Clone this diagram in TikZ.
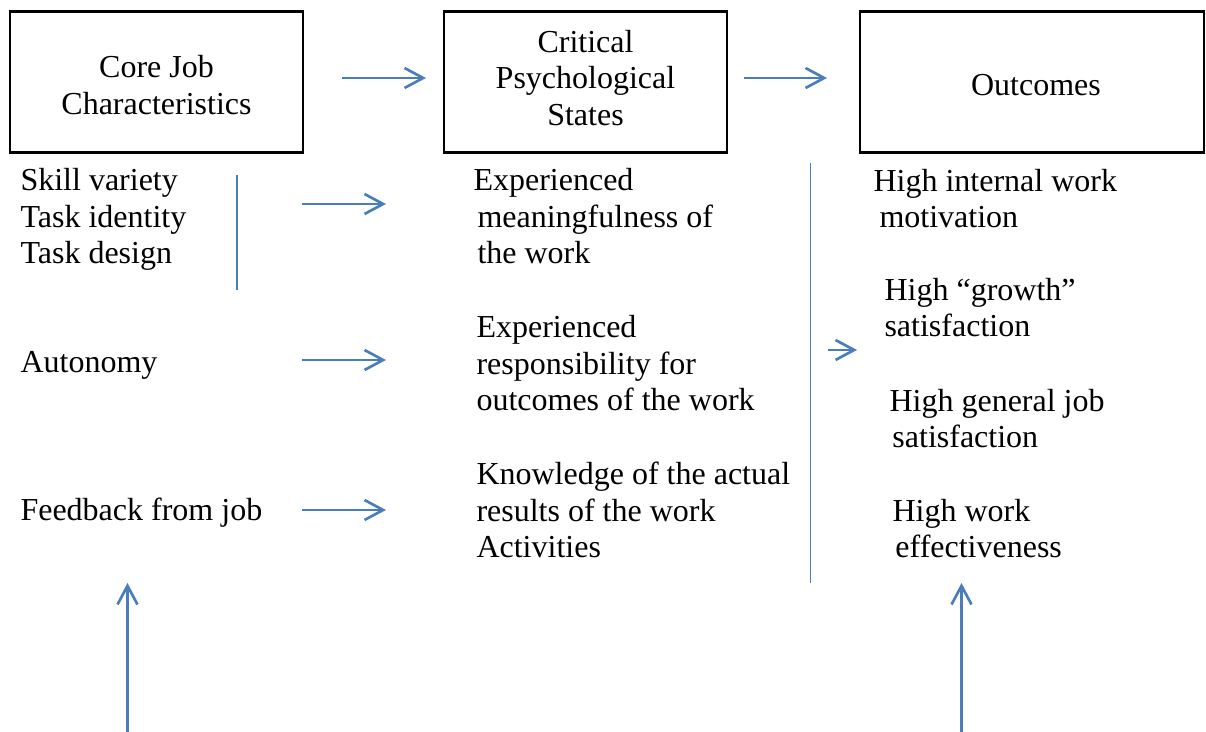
\documentclass[tikz,border=0pt]{standalone}
\usepackage{fontspec}
\setmainfont{Liberation Serif}
\usetikzlibrary{arrows.meta}
\definecolor{arrowblue}{HTML}{4A7EBB}
\tikzset{
  hdr/.style={draw=black, line width=0.8pt, inner sep=0pt},
  hdrtxt/.style={align=center, inner sep=0pt, font=\fontsize{12}{13.8}\selectfont},
  txt/.style={anchor=base west, align=left, inner sep=0pt, font=\fontsize{12}{13.76}\selectfont},
  arr/.style={draw=arrowblue, line width=1pt, -{Straight Barb[length=7pt,width=7.5pt,line width=1pt]}},
  vline/.style={draw=arrowblue, line width=0.6pt}
}
\begin{document}
\begin{tikzpicture}[x=0.375pt,y=-0.375pt]
\useasboundingbox (0,0) rectangle (1206,732);
% header boxes
\node[hdr, minimum width=109.875pt, minimum height=52.875pt] (b1) at (156.5,82) {};
\node[hdr, minimum width=106.125pt, minimum height=52.875pt] (b2) at (585.5,82) {};
\node[hdr, minimum width=129pt, minimum height=52.875pt] (b3) at (1032,82) {};
\node[hdrtxt, font=\fontsize{12}{14.2}\selectfont] (b1t) at (156.5,85) {Core Job\\Characteristics};
\node[hdrtxt] (b2t) at (585.5,78) {Critical\\Psychological\\States};
\node[hdrtxt] (b3t) at (1036,85) {Outcomes};
% top arrows
\coordinate (t1s) at (342,78); \coordinate (t1e) at (426,78);
\coordinate (t2s) at (744,78); \coordinate (t2e) at (827,78);
\draw[arr] (t1s) -- (t1e);
\draw[arr] (t2s) -- (t2e);
% left column
\node[txt] (l1) at (20,264) {Skill variety\\Task identity\\Task design};
\node[txt] (l2) at (20,373) {Autonomy};
\node[txt] (l3) at (20,521) {Feedback from job};
% middle column
\node[txt] (m1) at (473,264) {Experienced\\\hspace*{1.5pt}meaningfulness of\\\hspace*{1.5pt}the work};
\node[txt] (m2) at (476,411) {Experienced\\responsibility for\\outcomes of the work};
\node[txt] (m3) at (476,558) {Knowledge of the actual\\results of the work\\Activities};
% right column
\node[txt] (r1) at (873,228) {High internal work\\\hspace*{2.25pt}motivation};
\node[txt] (r2) at (884,337) {High “growth”\\satisfaction};
\node[txt] (r3) at (889,448) {High general job\\\hspace*{1.1pt}satisfaction};
\node[txt] (r4) at (892,558) {High work\\\hspace*{1.1pt}effectiveness};
% vertical lines
\coordinate (v1t) at (237,175); \coordinate (v1b) at (237,290);
\draw[vline] (v1t) -- (v1b);
\coordinate (v2t) at (810.5,163); \coordinate (v2b) at (810.5,583);
\draw[vline] (v2t) -- (v2b);
% middle arrows
\coordinate (a1s) at (302,204); \coordinate (a1e) at (386,204);
\coordinate (a2s) at (302,360); \coordinate (a2e) at (386,360);
\coordinate (a3s) at (302,510); \coordinate (a3e) at (386,510);
\draw[arr] (a1s) -- (a1e);
\draw[arr] (a2s) -- (a2e);
\draw[arr] (a3s) -- (a3e);
% small arrow to outcomes
\coordinate (s1s) at (828,350); \coordinate (s1e) at (857,350);
\draw[arr] (s1s) -- (s1e);
% bottom arrows
\coordinate (u1s) at (127.5,732); \coordinate (u1e) at (127.5,583);
\coordinate (u2s) at (961.5,732); \coordinate (u2e) at (961.5,583);
\draw[arr] (u1s) -- (u1e);
\draw[arr] (u2s) -- (u2e);
\end{tikzpicture}
\end{document}
